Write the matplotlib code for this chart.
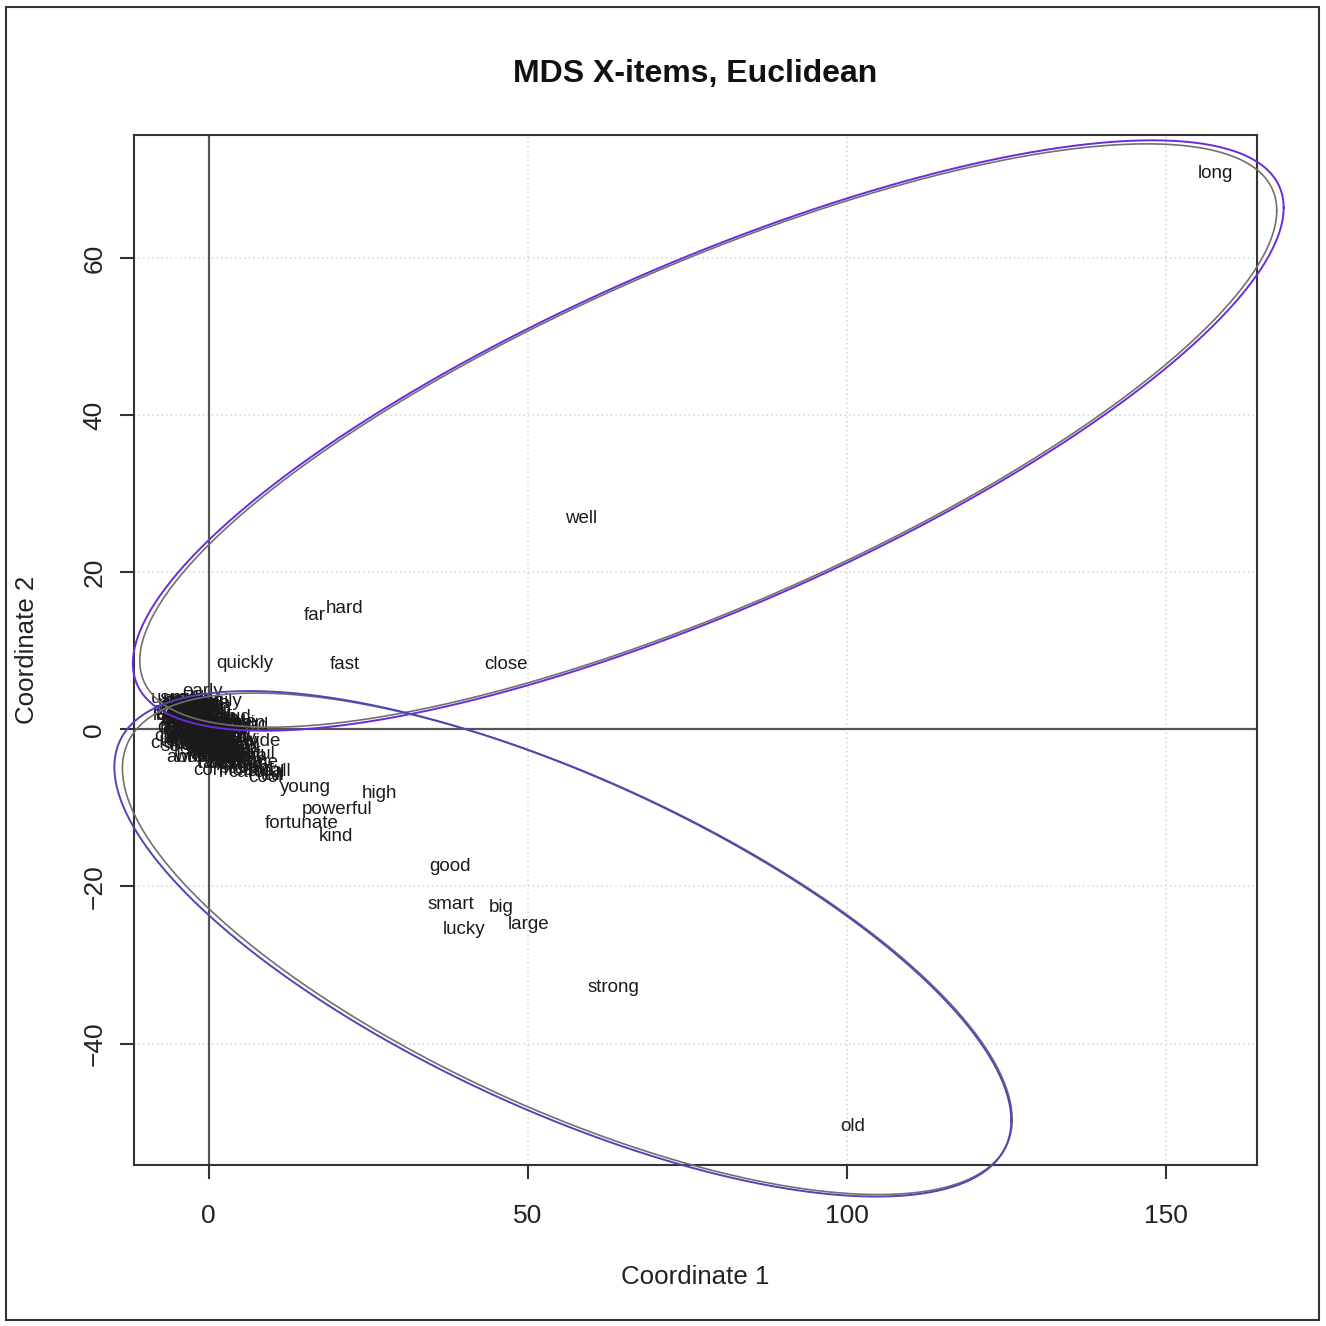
import numpy as np
import matplotlib
matplotlib.use("Agg")
import matplotlib.pyplot as plt
from matplotlib.patches import Rectangle

plt.rcParams['font.family'] = ['Liberation Sans', 'DejaVu Sans']

# MDS coordinates of the X-items (coordinate 1, coordinate 2)
words = ['long', 'well', 'hard', 'far', 'quickly', 'fast', 'close',
         'young', 'high', 'powerful', 'fortunate', 'kind', 'good', 'smart',
         'big', 'lucky', 'large', 'strong', 'old',
         'early', 'easily', 'nearly', 'actual', 'surely', 'daily', 'slow',
         'clear', 'low', 'late', 'soon', 'loud', 'deep', 'free', 'full',
         'safe', 'quick', 'tight', 'short', 'rich', 'warm', 'calm', 'wide',
         'clever', 'poor', 'weak', 'bright', 'sharp', 'abundant', 'polite',
         'gentle', 'confident', 'patient', 'cool', 'careful', 'small', 'tall',
         'nice', 'fine', 'great', 'brave', 'wise', 'happy', 'proud', 'busy',
         'fresh', 'pure', 'true', 'real', 'simple', 'honest', 'certain',
         'serious', 'perfect', 'direct', 'exact', 'usually', 'open', 'plain',
         'wild', 'common', 'steady', 'heavy', 'light', 'quiet', 'rare',
         'able', 'angry', 'bad', 'basic', 'bitter', 'blind', 'bold', 'broad',
         'cheap', 'clean', 'cold', 'crazy', 'cruel', 'dark', 'dead', 'dear',
         'dirty', 'dry', 'dull', 'eager', 'empty', 'equal', 'evil', 'fair',
         'false', 'fat', 'firm', 'flat', 'fond', 'foolish', 'formal', 'frank',
         'friendly', 'funny', 'glad', 'grand', 'green', 'guilty', 'hot',
         'huge', 'humble', 'ill', 'lazy', 'lonely', 'loose', 'lovely', 'mad',
         'mean', 'mild', 'modern', 'narrow', 'natural', 'neat', 'new',
         'noble', 'odd', 'pale', 'pleasant', 'pretty', 'private', 'public',
         'raw', 'ready', 'rough', 'round', 'rude', 'sad', 'shy', 'sick',
         'silent', 'silly', 'smooth', 'soft', 'solid', 'sore', 'sour',
         'stiff', 'still', 'strange', 'sweet', 'thick', 'thin', 'tired',
         'tough', 'ugly', 'useful', 'vague', 'vast', 'wet', 'white', 'wrong']
coord1 = [157.8, 58.4, 21.3, 16.6, 5.6, 21.3, 46.6,
          15.1, 26.7, 20.1, 14.6, 19.9, 37.8, 38.0,
          45.8, 40.0, 50.2, 63.5, 100.9,
          -0.9, 1.5, -4.0, -5.0, -2.5, -3.2, -1.0,
          -4.3, -2.0, 0.5, 1.8, 6.7, -4.8, -3.0, -1.2,
          0.8, 2.8, 3.5, -3.8, -2.0, 0.0, 2.0, 8.3,
          -5.2, -2.5, -0.5, 1.8, 4.0, -0.6, 3.5,
          5.2, 3.6, 6.0, 8.8, 7.5, 9.5, 10.0,
          -3.5, -1.8, 0.2, -3.0, -1.0, 1.0, 3.0, -4.2,
          -2.2, 0.5, -4.0, -0.8, -1.5, 2.2, 4.5,
          -2.8, 1.2, 2.5, -3.6, -4.6, -1.6, 0.3,
          -3.3, -0.2, 1.5, -4.4, 2.6, -2.7, 0.9,
          -4.9, -4.5, -3.9, -3.4, -2.9, -2.4, -1.9, -1.4,
          -0.9, -5.1, -4.6, -4.1, -3.6, -3.1, -2.6, -2.1,
          -1.6, -1.1, -0.6, -0.1, 0.4, 0.9, 1.4, 1.9,
          2.4, -4.8, -4.3, -3.8, -3.3, -2.8, -2.3, -1.8,
          -1.3, -0.8, -0.3, 0.2, 0.7, 1.2, 1.7,
          2.2, 2.7, 3.2, 3.7, 4.2, 4.7, -5.0, -4.4,
          -3.7, -3.2, -2.7, -2.2, -1.7, -1.2, -0.7,
          -0.2, 0.3, 0.8, 1.3, 1.8, 2.3, 2.8,
          3.3, 3.8, 4.3, 4.8, -4.7, -4.2, -3.5, -3.0,
          -2.5, -2.0, -1.5, -1.0, -0.5, 0.0, 0.5,
          1.0, 1.5, 2.0, 2.5, 3.0, 3.5, 4.0,
          5.5, 6.0, 6.5, 7.0, -0.4, 1.6, 0.6, -1.4]
coord2 = [70.8, 26.8, 15.4, 14.5, 8.4, 8.3, 8.3,
          -7.4, -8.2, -10.2, -12.0, -13.6, -17.5, -22.3,
          -22.7, -25.5, -24.8, -32.9, -50.6,
          4.8, 3.6, 3.3, 2.4, 3.0, 2.0, 2.5,
          1.2, 1.5, 2.0, 1.2, 0.5, 0.2, 0.5, 0.8,
          0.3, 0.0, -0.8, -0.6, -0.4, -0.8, -1.5, -1.5,
          -1.8, -1.8, -2.2, -2.8, -2.5, -3.6, -3.8,
          -4.0, -5.2, -5.0, -6.1, -5.5, -5.4, -5.9,
          1.8, 2.2, 1.2, -1.0, -0.2, -1.5, 1.5, 2.6,
          0.0, -2.5, 0.6, 1.8, -1.2, -2.0, 0.8,
          -2.2, -3.0, -3.5, 3.5, 3.9, 3.1, 0.9,
          1.0, 0.4, -0.5, 1.8, -1.0, 2.8, -4.3,
          3.0, 1.9, 2.4, 0.2, 1.3, 2.7, 0.6, 3.2,
          -0.6, -0.9, -0.2, 1.4, -1.5, 2.1, -0.7, 1.9,
          -2.0, 1.0, 2.9, -1.2, 0.8, -0.9, 2.4, 0.4,
          -0.5, 1.0, -0.8, 2.9, -1.9, 0.9, -1.4, 3.4,
          -0.3, -1.6, 2.1, -1.8, 1.5, -2.2, 1.9,
          -1.1, 0.9, -2.0, 0.2, -1.6, -3.0, 1.7, 3.8,
          1.0, 3.9, 0.4, 3.5, -0.9, 2.4, 0.3,
          3.3, -0.3, 2.6, -0.4, -3.6, -2.6, -3.0,
          1.0, -1.2, -2.2, -4.6, -1.1, 0.4, -0.3, 3.2,
          1.6, -2.6, 1.3, -2.8, 1.5, 0.4, -1.4,
          0.9, -2.6, 0.8, -1.8, -4.2, -3.0, -3.6,
          -3.4, -4.4, -3.2, -4.2, -3.2, -4.3, -3.4, -3.6]

# cluster ellipses: centre and lower-triangular shape matrix (data units)
upper_center = (78.3, 37.4)
upper_shape = [[90.2, 0.0], [29.0, 23.9]]
lower_center = (55.5, -27.3)
lower_shape = [[70.3, 0.0], [-22.5, 23.0]]

x_ticks = [0, 50, 100, 150]
y_ticks = [-40, -20, 0, 20, 40, 60]


def ellipse(center, shape, scale=1.0, dx=0.0, n=400):
    t = np.linspace(0, 2 * np.pi, n)
    L = np.array(shape) * scale
    pts = L @ np.vstack([np.cos(t), np.sin(t)])
    return pts[0] + center[0] + dx, pts[1] + center[1]


fig = plt.figure(figsize=(13.26, 13.26), dpi=100)
ax = fig.add_axes([134 / 1326, 1 - 1165 / 1326, 1123 / 1326, 1030 / 1326])

# R-style 4% range extension
x = np.array(coord1)
y = np.array(coord2)
rx = x.max() - x.min()
ry = y.max() - y.min()
ax.set_xlim(x.min() - 0.04 * rx, x.max() + 0.04 * rx)
ax.set_ylim(y.min() - 0.04 * ry, y.max() + 0.04 * ry)

ax.set_xticks(x_ticks)
ax.set_yticks(y_ticks)
for v in x_ticks:
    if v != 0:
        ax.axvline(v, color='#d3d3d3', lw=1.1, ls=(0, (1, 2)), zorder=0)
for v in y_ticks:
    if v != 0:
        ax.axhline(v, color='#d3d3d3', lw=1.1, ls=(0, (1, 2)), zorder=0)
ax.axvline(0, color='#555555', lw=1.6, zorder=1)
ax.axhline(0, color='#555555', lw=1.6, zorder=1)

for w, xi, yi in zip(words, coord1, coord2):
    ax.text(xi, yi, w, ha='center', va='center', fontsize=13.5,
            color='#1a1a1a', zorder=3)

ex, ey = ellipse(upper_center, upper_shape, 0.988)
ax.plot(ex, ey, color='#707070', lw=1.2, clip_on=False, zorder=4)
ex, ey = ellipse(upper_center, upper_shape)
ax.plot(ex, ey, color='#6a2bd9', lw=1.4, clip_on=False, zorder=4)
ex, ey = ellipse(lower_center, lower_shape, 0.992, dx=0.7)
ax.plot(ex, ey, color='#707070', lw=1.2, clip_on=False, zorder=4)
ex, ey = ellipse(lower_center, lower_shape)
ax.plot(ex, ey, color='#4a48b8', lw=1.4, clip_on=False, zorder=4)

for s in ax.spines.values():
    s.set_color('#333333')
    s.set_linewidth(1.5)
ax.tick_params(length=10, width=1.5, color='#333333', labelsize=19,
               labelcolor='#222222')
ax.tick_params(axis='x', pad=18)
ax.tick_params(axis='y', pad=10, labelrotation=90)
for lab in ax.get_yticklabels():
    lab.set_va('center')

fig.text(695 / 1326, 1 - 74 / 1326, 'MDS X-items, Euclidean', ha='center',
         va='center', fontsize=23, fontweight='bold', color='#111111')
fig.text(695 / 1326, 1 - 1277 / 1326, 'Coordinate 1', ha='center',
         va='center', fontsize=18.6, color='#222222')
fig.text(27 / 1326, 1 - 650 / 1326, 'Coordinate 2', ha='center',
         va='center', rotation=90, fontsize=18.6, color='#222222')

fig.patches.append(Rectangle((6 / 1326, 6 / 1326), 1313 / 1326, 1313 / 1326,
                             transform=fig.transFigure, fill=False,
                             edgecolor='#333333', lw=1.5))

fig.savefig('out.png', dpi=100)
